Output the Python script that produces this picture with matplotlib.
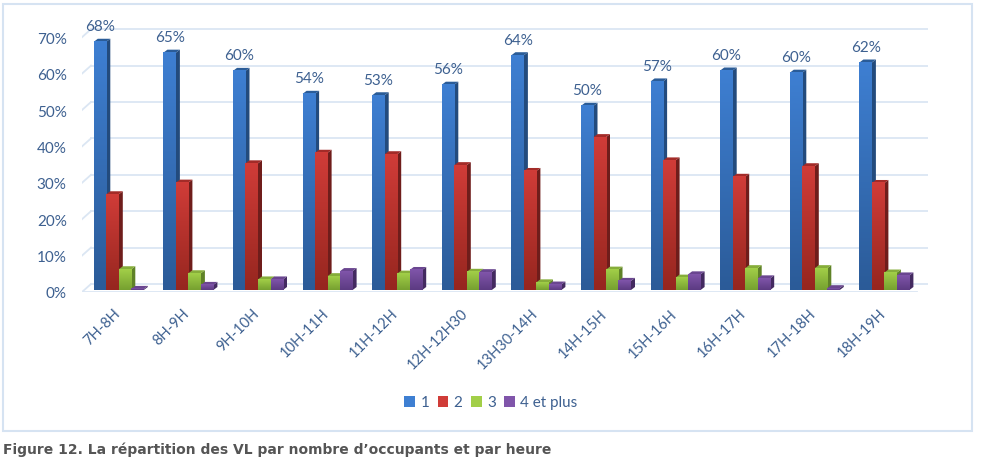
import matplotlib.pyplot as plt
import matplotlib.transforms as mtransforms
import numpy as np
from matplotlib.patches import Patch, Polygon, Rectangle

hours = ["7H-8H", "8H-9H", "9H-10H", "10H-11H", "11H-12H", "12H-12H30",
         "13H30-14H", "14H-15H", "15H-16H", "16H-17H", "17H-18H", "18H-19H"]
one = [68.2, 65.2, 60.2, 53.9, 53.5, 56.4, 64.5, 50.6, 57.3, 60.3, 59.7, 62.5]
two = [26.3, 29.5, 34.8, 37.7, 37.3, 34.3, 32.7, 42.0, 35.6, 31.1, 34.0, 29.4]
three = [5.7, 4.6, 2.9, 3.8, 4.5, 5.0, 2.1, 5.6, 3.4, 6.0, 6.0, 4.8]
four = [0.3, 1.4, 2.9, 5.2, 5.5, 4.9, 1.5, 2.5, 4.3, 3.2, 0.5, 4.0]
one_labels = ["68%", "65%", "60%", "54%", "53%", "56%", "64%", "50%", "57%", "60%", "60%", "62%"]
series_names = ["1", "2", "3", "4 et plus"]
y_ticks = [0, 10, 20, 30, 40, 50, 60, 70]
y_labels = ["0%", "10%", "20%", "30%", "40%", "50%", "60%", "70%"]

text_color = "#3d6090"
grid_color = "#dbe6f3"
# top, bottom, side, lid
colors = [("#3e7fd2", "#2b5b98", "#234b7d", "#2a5c98"),
          ("#d03c38", "#96261f", "#6f1d1b", "#a32b28"),
          ("#a2cf48", "#76a030", "#5f8227", "#86ad3a"),
          ("#8055aa", "#5c3b82", "#432a60", "#6a4690")]

plt.rcParams["font.family"] = ["Lato", "DejaVu Sans"]

fig = plt.figure(figsize=(9.82, 4.61), dpi=100)
W, H = 982, 461
ax = fig.add_axes([82 / W, 1 - 292 / H, (928 - 82) / W, (292 - 20) / H])

# pixel layout of the plot: pitch between groups, pixels per percent
pitch = 69.6
ppp = 3.64
ax.set_xlim((82 - 118.8) / pitch, (928 - 118.8) / pitch)
ax.set_ylim(-2 / ppp, 270 / ppp)

bar_w = 12.5 / pitch
dx = 4.0 / pitch
dy = 3.0 / ppp

# back wall grid and floor
wall_x0 = (91 - 118.8) / pitch
wall_x1 = (928 - 118.8) / pitch
floor_x0 = (82 - 118.8) / pitch
floor_x1 = (917 - 118.8) / pitch
back = 6 / ppp
front = -2 / ppp
for t in y_ticks:
    ax.plot([wall_x0, wall_x1], [t + back, t + back], color=grid_color, lw=1.3, zorder=1)
    ax.plot([floor_x0, wall_x0], [t + front, t + back], color=grid_color, lw=1.3, zorder=1)
ax.plot([floor_x0, floor_x1], [front, front], color=grid_color, lw=1.3, zorder=1)

# 3D bars, drawn left to right so that each one hides the side of the previous one
gradient = np.linspace(0, 1, 64).reshape(-1, 1)
z = 2
for i in range(len(hours)):
    for s, values in enumerate([one, two, three, four]):
        v = values[i]
        x0 = i + (s - 2) * bar_w
        x1 = x0 + bar_w
        top_c, bot_c, side_c, lid_c = colors[s]
        ax.add_patch(Polygon([(x1, 0), (x1 + dx, dy), (x1 + dx, v + dy), (x1, v)],
                             facecolor=side_c, edgecolor="none", zorder=z))
        ax.add_patch(Polygon([(x0, v), (x0 + dx, v + dy), (x1 + dx, v + dy), (x1, v)],
                             facecolor=lid_c, edgecolor="none", zorder=z))
        c0 = np.array(plt.matplotlib.colors.to_rgb(top_c))
        c1 = np.array(plt.matplotlib.colors.to_rgb(bot_c))
        img = (c0 + (c1 - c0) * gradient).reshape(-1, 1, 3)
        ax.imshow(img, extent=[x0, x1, 0, v], aspect="auto", zorder=z + 0.5,
                  interpolation="bilinear")
        z += 1

ax.set_xlim((82 - 118.8) / pitch, (928 - 118.8) / pitch)
ax.set_ylim(-2 / ppp, 270 / ppp)

# values above the blue bars
for i, v in enumerate(one):
    ax.annotate(one_labels[i], (i - bar_w * 1.5, v), xytext=(0, 10.5),
                textcoords="offset points", ha="center", va="center",
                fontsize=11, color=text_color, zorder=200)

for spine in ax.spines.values():
    spine.set_visible(False)
ax.set_yticks(y_ticks, y_labels)
ax.set_xticks(range(len(hours)), hours, rotation=45, ha="right", rotation_mode="anchor")
ax.tick_params(axis="y", length=0, pad=11, labelsize=11, labelcolor=text_color)
ax.tick_params(axis="x", length=0, pad=10, labelsize=10.5, labelcolor=text_color)
shift = mtransforms.Affine2D().translate(0, -3)
for lab in ax.get_yticklabels():
    lab.set_transform(lab.get_transform() + shift)
shift_x = mtransforms.Affine2D().translate(-6, -1)
for lab in ax.get_xticklabels():
    lab.set_transform(lab.get_transform() + shift_x)

handles = [Patch(facecolor=c[0], edgecolor="none", label=n) for c, n in zip(colors, series_names)]
fig.legend(handles=handles, loc="center", bbox_to_anchor=(491 / W, 1 - 403 / H), ncol=4,
           frameon=False, fontsize=11, labelcolor=text_color, handlelength=0.7,
           handleheight=0.7, handletextpad=0.35, columnspacing=0.55)

# frame and caption
fig.add_artist(Rectangle((3 / W, 1 - 431 / H), 969 / W, 427 / H, transform=fig.transFigure,
                         facecolor="none", edgecolor="#d6e3f2", lw=1.5))
fig.text(3 / W, 1 - 450 / H, "Figure 12. La répartition des VL par nombre d’occupants et par heure",
         family="DejaVu Sans", fontweight="bold", fontsize=10, color="#555555", va="center")

fig.savefig("out.png", dpi=100)
